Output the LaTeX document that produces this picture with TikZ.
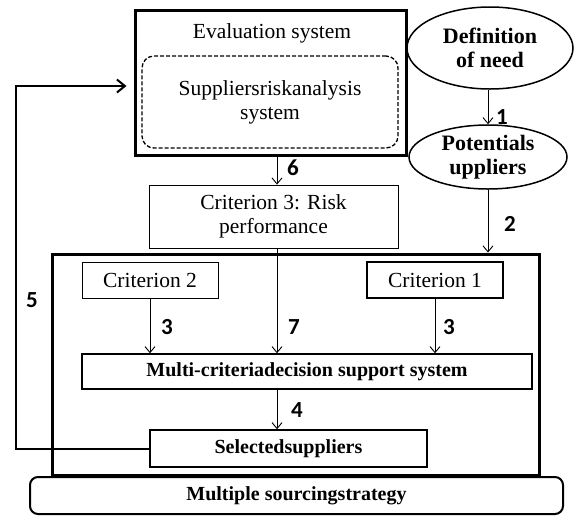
\documentclass[tikz,border=0pt]{standalone}
\usepackage{fontspec}
\setmainfont{Liberation Serif}
\newfontfamily\numfont{Carlito}
\usetikzlibrary{arrows.meta,shapes.geometric}
\begin{document}
\begin{tikzpicture}[x=1pt,y=-1pt,
  every node/.style={inner sep=0pt,font=\fontsize{21.5}{24}\selectfont,align=center},
  thickbox/.style={draw,line width=3pt,rectangle},
  thinbox/.style={draw,line width=0.8pt,rectangle},
  midbox/.style={draw,line width=1.5pt,rectangle},
  bfnode/.style={font=\fontsize{20}{22}\selectfont\bfseries},
  ell/.style={draw,ellipse,line width=1.5pt,font=\fontsize{22}{24}\selectfont\bfseries},
  arr/.style={line width=0.9pt,-{Straight Barb[length=6pt,width=10pt]}},
  numlab/.style={font=\fontsize{23}{24}\selectfont\numfont\bfseries}]
\useasboundingbox (0,0) rectangle (576,515);
% boxes
\node[thickbox,minimum width=271pt,minimum height=145pt] (eval) at (270.5,82.5) {};
\node (evtitle) at (272,33) {Evaluation system};
\node[draw,dash pattern=on 4pt off 2pt,line width=1.3pt,rounded corners=12pt,minimum width=256pt,minimum height=92pt,
      text width=250pt] (inner) at (270,102) {Suppliersriskanalysis\\system};
\node[ell,minimum width=166pt,minimum height=82pt] (def) at (490,48) {Definition\\of need};
\node[ell,minimum width=158pt,minimum height=64pt] (pot) at (488,157) {Potentials\\uppliers};
\node[thinbox,minimum width=249pt,minimum height=63pt] (crit3) at (273.5,216.5) {Criterion 3: Risk\\performance};
\node[thickbox,minimum width=487pt,minimum height=221pt] (big) at (295.5,364.5) {};
\node[thinbox,minimum width=136pt,minimum height=36pt] (crit2) at (150,280) {Criterion 2};
\node[midbox,minimum width=136pt,minimum height=36pt] (crit1) at (435,280) {Criterion 1};
\node[midbox,bfnode,minimum width=450pt,minimum height=35pt] (multi) at (307,371.5) {Multi-criteriadecision support system};
\node[midbox,bfnode,minimum width=277pt,minimum height=37pt] (sel) at (288.5,448.5) {Selectedsuppliers};
\node[draw,line width=2pt,rounded corners=8pt,bfnode,minimum width=533pt,minimum height=37pt] (multsrc) at (296.5,495.5) {Multiple sourcingstrategy};
% connectors
\coordinate (c6) at (277,0);
\coordinate (c5) at (16,0);
\draw[arr] (def.south -| pot.north) -- (pot.north);
\draw[arr] (pot.south) -- (pot.south |- big.north);
\draw[arr] (eval.south -| c6) -- (crit3.north -| c6);
\draw[arr] (crit3.south -| c6) -- (multi.north -| c6);
\draw[arr] (crit2.south) -- (crit2.south |- multi.north);
\draw[arr] (crit1.south) -- (crit1.south |- multi.north);
\draw[arr] (multi.south -| c6) -- (sel.north -| c6);
\draw[line width=2pt,-{Straight Barb[length=8pt,width=13pt,line width=2pt]},shorten >=7pt]
  (sel.west) -- (sel.west -| c5) -- ([yshift=-3.5pt]eval.west -| c5) -- ([yshift=-3.5pt]eval.west);
% labels
\node[numlab] (l1) at (502,117) {1};
\node[numlab] (l2) at (510,224) {2};
\node[numlab] (l6) at (293,168) {6};
\node[numlab] (l7) at (294,327) {7};
\node[numlab] (l3a) at (167,327) {3};
\node[numlab] (l3b) at (449,327) {3};
\node[numlab] (l4) at (297,410) {4};
\node[numlab] (l5) at (32,300) {5};
\end{tikzpicture}
\end{document}
